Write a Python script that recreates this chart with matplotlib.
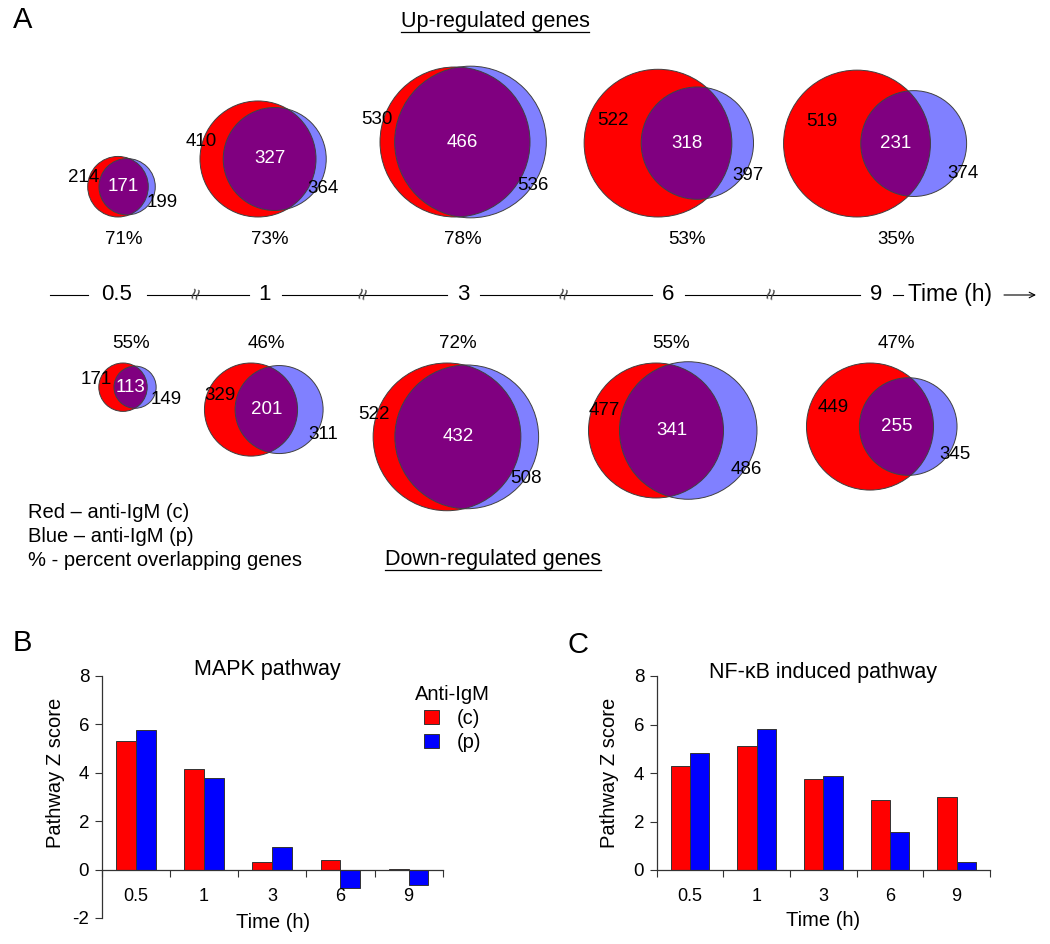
import numpy as np
import matplotlib
matplotlib.use('Agg')
import matplotlib.pyplot as plt
from matplotlib.patches import Circle

plt.rcParams['font.family'] = ['Liberation Sans', 'DejaVu Sans']
plt.rcParams['axes.unicode_minus'] = False

# ---- data ----
times = ['0.5', '1', '3', '6', '9']

up_c = [214, 410, 530, 522, 519]
up_p = [199, 364, 536, 397, 374]
up_both = [171, 327, 466, 318, 231]
up_pct = ['71%', '73%', '78%', '53%', '35%']

down_c = [171, 329, 522, 477, 449]
down_p = [149, 311, 508, 486, 345]
down_both = [113, 201, 432, 341, 255]
down_pct = ['55%', '46%', '72%', '55%', '47%']

mapk_c = [5.33, 4.15, 0.30, 0.38, 0.02]
mapk_p = [5.75, 3.77, 0.95, -0.78, -0.65]
nfkb_c = [4.29, 5.12, 3.74, 2.89, 3.01]
nfkb_p = [4.84, 5.80, 3.86, 1.58, 0.32]

# ---- layout (pixels) ----
W, H = 1050, 944
PX = 0.1415                        # circle radius in px per gene
up_x = [118, 258, 455, 658, 857]   # centre of red circle, top row
down_x = [123, 251, 447, 656, 870]
timeline_x = [117, 265, 463, 668, 876]
RED, BLUE_L, PURPLE, BLUE = '#ff0000', '#8080ff', '#800080', '#0000ff'
EDGE = '#404040'

fig = plt.figure(figsize=(W / 100, H / 100), dpi=100)
ax0 = fig.add_axes([0, 0, 1, 1])
ax0.set_xlim(0, W)
ax0.set_ylim(H, 0)
ax0.axis('off')


def lens(r1, r2, d):
    if d >= r1 + r2:
        return 0.0
    if d <= abs(r1 - r2):
        return np.pi * min(r1, r2) ** 2
    a1 = np.arccos((d * d + r1 * r1 - r2 * r2) / (2 * d * r1))
    a2 = np.arccos((d * d + r2 * r2 - r1 * r1) / (2 * d * r2))
    k = np.sqrt((-d + r1 + r2) * (d + r1 - r2) * (d - r1 + r2) * (d + r1 + r2))
    return r1 * r1 * a1 + r2 * r2 * a2 - 0.5 * k


def separation(r1, r2, frac):
    target = frac * np.pi * min(r1, r2) ** 2
    lo, hi = abs(r1 - r2), r1 + r2
    for _ in range(60):
        mid = (lo + hi) / 2
        if lens(r1, r2, mid) > target:
            lo = mid
        else:
            hi = mid
    return (lo + hi) / 2


def venn(cx, edge_y, top_aligned, n_c, n_p, n_b, pct, pct_y):
    r1, r2 = n_c * PX, n_p * PX
    cy = edge_y + r1 if top_aligned else edge_y - r1
    d = separation(r1, r2, n_b / min(n_c, n_p))
    cb = cx + d
    red = Circle((cx, cy), r1, fc=RED, ec='none', zorder=2)
    blue = Circle((cb, cy), r2, fc=BLUE_L, ec='none', zorder=2)
    ax0.add_patch(red)
    ax0.add_patch(blue)
    over = Circle((cb, cy), r2, fc=PURPLE, ec='none', zorder=3)
    ax0.add_patch(over)
    over.set_clip_path(red)
    for c, r in [(cx, r1), (cb, r2)]:
        ax0.add_patch(Circle((c, cy), r, fill=False, ec=EDGE, lw=0.7, zorder=4))

    red_left, blue_left, red_right = cx - r1, cb - r2, cx + r1
    lx = (red_left + blue_left) / 2 - (10 if blue_left - red_left < 30 else 0)
    ax0.text(lx, cy - 0.3 * r1, str(n_c), ha='center', va='center', fontsize=13.5, zorder=5)
    ox = (blue_left + red_right) / 2
    ax0.text(ox, cy, str(n_b), ha='center', va='center', fontsize=13.5, color='white', zorder=5)
    a = np.radians(35)
    bx = cb + r2 * np.cos(a) + 0.25 * (75 - r2)
    ax0.text(bx, cy + r2 * np.sin(a), str(n_p), ha='center', va='center', fontsize=13.5, zorder=5)
    ax0.text(ox, pct_y, pct, ha='center', va='center', fontsize=13.5)


for i in range(len(times)):
    venn(up_x[i], 217, False, up_c[i], up_p[i], up_both[i], up_pct[i], 240)
    venn(down_x[i], 363, True, down_c[i], down_p[i], down_both[i], down_pct[i], 343)

# time line
ty = 295
gaps = [10 + 6.5 * len(t) for t in times]
ax0.plot([50, timeline_x[0] - gaps[0]], [ty, ty], color='black', lw=0.8)
for i, t in enumerate(times):
    ax0.text(timeline_x[i], ty, t, ha='center', va='center', fontsize=16)
    if i < len(times) - 1:
        x1 = timeline_x[i] + gaps[i]
        x2 = timeline_x[i + 1] - gaps[i + 1]
        ax0.plot([x1, x2], [ty, ty], color='black', lw=0.8)
        ax0.text((x1 + x2) / 2, ty - 1, '\u2248', ha='center', va='center', fontsize=15,
                 rotation=75, color='#444444')
ax0.plot([timeline_x[-1] + gaps[-1], 903], [ty, ty], color='black', lw=0.8)
ax0.text(908, ty, 'Time (h)', ha='left', va='center', fontsize=16.5)
ax0.annotate('', xy=(1036, ty), xytext=(1004, ty),
             arrowprops=dict(arrowstyle='->', lw=0.8, color='black', shrinkA=0, shrinkB=0))

# titles and key
ax0.text(23, 20, 'A', ha='center', va='center', fontsize=21)
ax0.text(22, 643, 'B', ha='center', va='center', fontsize=21)
ax0.text(578, 645, 'C', ha='center', va='center', fontsize=21)
t_up = ax0.text(495, 22, 'Up-regulated genes', ha='center', va='center', fontsize=15.5)
t_dn = ax0.text(493, 560, 'Down-regulated genes', ha='center', va='center', fontsize=15.5)
for k, line in enumerate(['Red \u2013 anti-IgM (c)', 'Blue \u2013 anti-IgM (p)',
                          '% - percent overlapping genes']):
    ax0.text(28, 512 + 24 * k, line, ha='left', va='center', fontsize=14.5)

fig.canvas.draw()
inv = ax0.transData.inverted()
for t in (t_up, t_dn):
    bb = t.get_window_extent()
    (x1, y1), (x2, y2) = inv.transform([(bb.x0, bb.y0), (bb.x1, bb.y1)])
    ax0.plot([x1, x2], [y1 - 1, y1 - 1], color='black', lw=0.9)


# ---- bar panels ----
def bar_panel(rect, c, p, title, ylim, title_xy, legend=False):
    ax = fig.add_axes(rect)
    ax.set_facecolor('none')
    x = np.arange(len(times))
    w = 0.29
    ax.bar(x - w / 2, c, w, color=RED, edgecolor='#333333', lw=0.7, label='(c)')
    ax.bar(x + w / 2, p, w, color=BLUE, edgecolor='#333333', lw=0.7, label='(p)')
    ax.set_xlim(-0.5, len(times) - 0.5)
    ax.set_ylim(*ylim)
    for s in ('top', 'right'):
        ax.spines[s].set_visible(False)
    ax.spines['bottom'].set_position(('data', 0))
    for s in ('left', 'bottom'):
        ax.spines[s].set_color('#333333')
        ax.spines[s].set_linewidth(0.9)
    ax.set_xticks(np.arange(-0.5, len(times), 1))
    ax.set_xticklabels([])
    ax.set_xticks(x, minor=True)
    ax.set_xticklabels(times, minor=True)
    ax.tick_params(axis='x', which='major', length=5, direction='out', color='#333333')
    ax.tick_params(axis='x', which='minor', length=0, pad=13, labelsize=13)
    ax.set_yticks(np.arange(ylim[0], ylim[1] + 1, 2))
    ax.tick_params(axis='y', length=5, color='#333333', labelsize=13.5, pad=4)
    ax.text(title_xy[0], title_xy[1], title, transform=ax.transAxes,
            ha='center', va='center', fontsize=15.5)
    ax.set_xlabel('Time (h)', fontsize=14.5)
    ax.set_ylabel('Pathway Z score', fontsize=14.5)
    if legend:
        ax.legend(title='Anti-IgM', frameon=False, loc='upper left',
                  bbox_to_anchor=(0.919, 0.963), borderpad=0, borderaxespad=0,
                  fontsize=14.5, title_fontsize=14.5, handlelength=0.75,
                  handleheight=0.75, handletextpad=0.9, labelspacing=0.25)
    return ax


axB = bar_panel([101.7 / W, 1 - 918 / H, 341 / W, 242 / H], mapk_c, mapk_p,
                'MAPK pathway', (-2, 8), (0.485, 1.025), legend=True)
axB.xaxis.set_label_coords(0.502, 0.02)
axB.yaxis.set_label_coords(-0.109, 0.6)

axC = bar_panel([656.7 / W, 1 - 870 / H, 333.3 / W, 194 / H], nfkb_c, nfkb_p,
                'NF-\u03baB induced pathway', (0, 8), (0.499, 1.02))
axC.xaxis.set_label_coords(0.5, -0.211)
axC.yaxis.set_label_coords(-0.112, 0.5)

fig.savefig('out.png', dpi=100)
